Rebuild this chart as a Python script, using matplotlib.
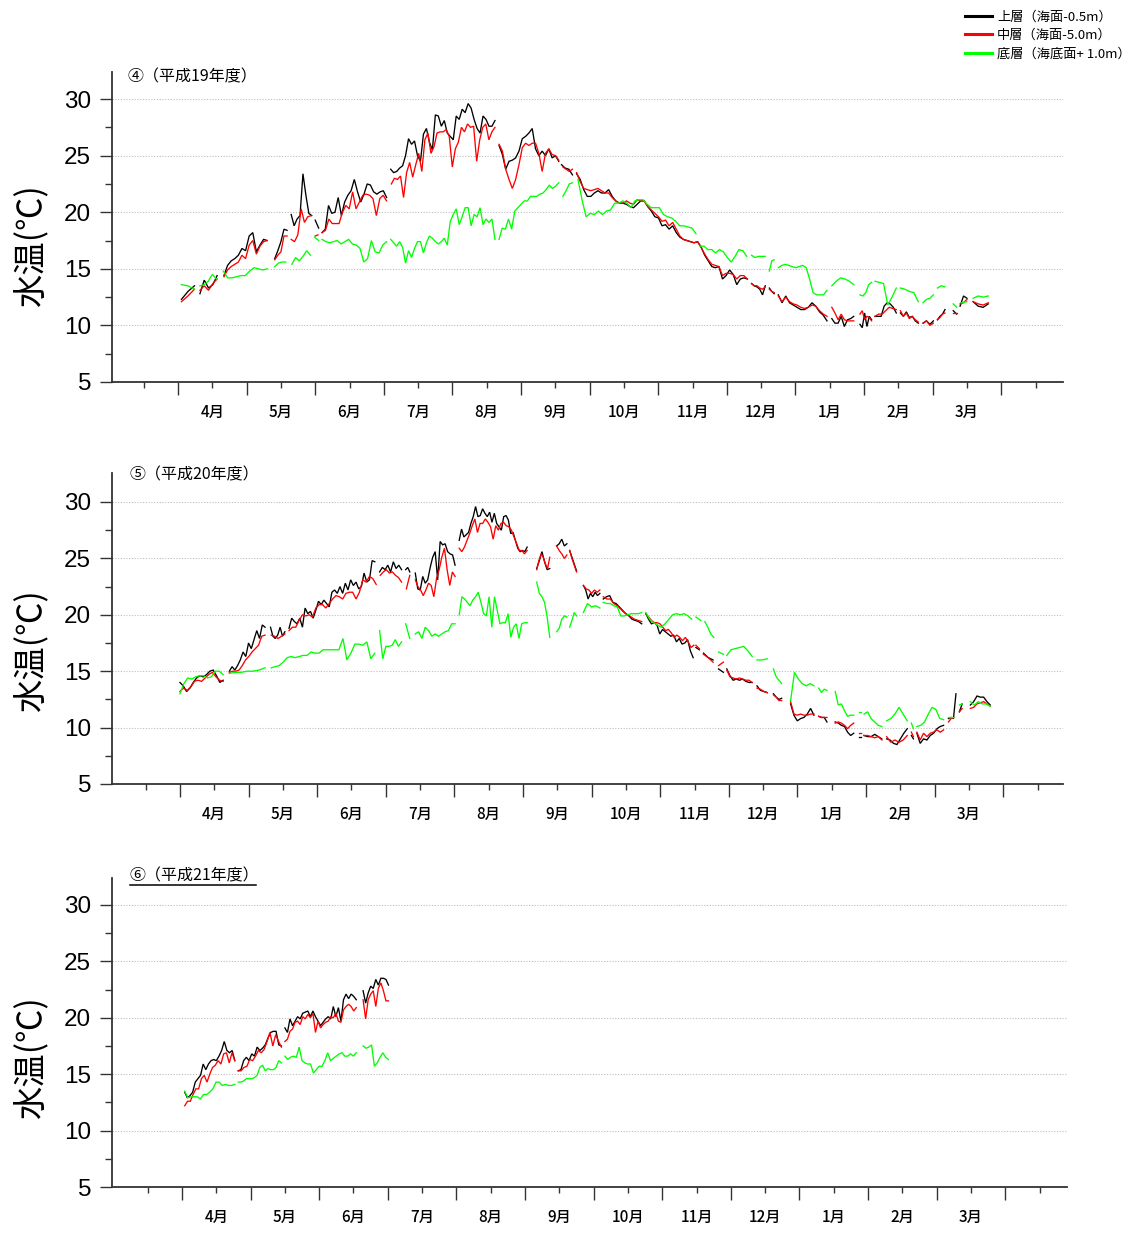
import numpy as np
import matplotlib
matplotlib.use("Agg")
import matplotlib.pyplot as plt
from matplotlib.lines import Line2D

plt.rcParams['font.family'] = ['Liberation Sans', 'Noto Sans CJK JP']
CJK = ['Noto Sans CJK JP', 'DejaVu Sans']

# x axis = months counted from 1 April, each record = (start, end, daily values)
months = ['4月', '5月', '6月', '7月', '8月', '9月', '10月', '11月', '12月', '1月', '2月', '3月']
titles = ['④（平成19年度）', '⑤（平成20年度）', '⑥（平成21年度）']
legend_labels = ['上層（海面-0.5m）', '中層（海面-5.0m）', '底層（海底面+ 1.0m）']
ylabel = '水温(℃)'

# ---- H19 ----
top_h19 = [
    (0.05, 0.24, [12.3, 13.0, 13.5]),
    (0.32, 0.57, [12.8, 14.0, 13.3, 13.6, 14.4]),
    (0.67, 1.30, [14.4, 15.3, 15.7, 15.9, 16.2, 16.8, 16.6, 17.9, 18.2, 16.5, 17.1, 17.6, 17.5]),
    (1.41, 1.59, [15.9, 16.6, 17.4, 18.5, 18.4]),
    (1.65, 1.95, [19.8, 18.8, 19.4, 19.7, 23.4, 21.5, 19.9, 19.7]),
    (2.00, 2.05, [19.3, 18.6]),
    (2.10, 3.04, [18.2, 18.5, 20.6, 19.9, 20.0, 21.3, 19.7, 20.9, 21.5, 21.9, 22.9, 21.8, 20.9, 21.6,
                  22.5, 22.4, 21.8, 21.6, 21.8, 21.9, 21.3]),
    (3.10, 4.62, [23.8, 23.5, 23.6, 23.9, 24.1, 25.0, 26.5, 26.0, 26.3, 25.0, 24.5, 26.9, 27.4, 26.2,
                  25.5, 28.6, 28.5, 27.6, 28.1, 27.0, 26.7, 26.4, 28.5, 28.2, 29.1, 28.8, 29.6, 29.2,
                  28.2, 27.4, 27.0, 28.5, 28.2, 27.6, 27.6, 28.1]),
    (4.68, 5.55, [25.9, 25.1, 23.8, 24.5, 24.6, 24.8, 25.4, 26.5, 26.7, 27.0, 27.4, 25.6, 25.0, 25.4,
                  25.0, 25.6, 24.8, 25.0, 24.5]),
    (5.59, 5.75, [24.2, 23.9, 23.8, 23.3]),
    (5.81, 8.30, [23.4, 22.9, 22.0, 21.4, 21.4, 21.7, 21.9, 21.7, 21.7, 22.0, 21.4, 21.0, 20.8, 20.8,
                  20.7, 20.5, 20.4, 20.7, 21.0, 21.0, 20.5, 20.1, 19.6, 19.5, 18.8, 18.9, 18.5, 18.8,
                  18.2, 17.8, 17.6, 17.5, 17.4, 17.3, 17.4, 16.9, 16.2, 15.7, 15.2, 15.1, 15.2, 14.1,
                  14.4, 14.9, 14.5, 13.6, 14.1, 14.2, 14.1]),
    (8.36, 8.56, [13.7, 13.5, 13.4, 13.2, 12.7, 13.5]),
    (8.62, 8.69, [13.3, 13.0, 12.8]),
    (8.75, 9.46, [12.7, 12.0, 12.6, 12.0, 11.8, 11.6, 11.4, 11.4, 11.6, 12.0, 11.7, 11.2, 10.9, 10.4]),
    (9.53, 9.85, [10.6, 10.2, 10.2, 10.8, 9.9, 10.5, 10.6, 10.8]),
    (9.94, 10.11, [10.1, 9.8, 11.1, 9.9, 10.8, 10.5]),
    (10.16, 10.47, [10.8, 10.8, 10.8, 11.7, 12.0, 11.9, 11.6, 11.1]),
    (10.53, 10.79, [11.1, 10.8, 11.2, 10.7, 10.8, 10.4, 10.2]),
    (10.86, 11.01, [10.2, 10.4, 10.1, 10.4]),
    (11.07, 11.18, [10.5, 10.8, 11.0, 11.4]),
    (11.30, 11.35, [11.3, 11.0]),
    (11.40, 11.50, [11.7, 12.6, 12.4]),
    (11.59, 11.81, [12.1, 11.7, 11.6, 11.9]),
]
mid_h19 = [
    (0.05, 0.24, [12.1, 12.6, 13.2]),
    (0.32, 0.57, [13.1, 13.5, 13.1, 13.7, 14.1]),
    (0.67, 1.30, [14.3, 14.9, 15.2, 15.4, 15.6, 16.2, 15.9, 17.1, 17.5, 16.3, 17.0, 17.4, 17.5]),
    (1.41, 1.59, [15.8, 16.2, 16.5, 17.9, 17.9]),
    (1.65, 1.94, [17.6, 17.4, 18.0, 20.3, 19.1, 19.6, 19.7]),
    (2.00, 2.04, [17.9, 18.0]),
    (2.10, 3.04, [18.2, 18.4, 19.4, 19.0, 19.0, 19.0, 20.0, 20.6, 20.3, 21.8, 20.3, 20.9, 21.5, 21.6,
                  21.5, 21.2, 19.7, 21.2, 21.5, 21.0]),
    (3.11, 4.62, [22.5, 23.0, 22.9, 23.2, 21.3, 23.5, 24.4, 23.1, 24.2, 25.2, 23.6, 26.4, 27.0, 25.2,
                  25.8, 27.0, 27.1, 27.1, 27.3, 26.7, 24.0, 25.6, 26.2, 27.5, 27.1, 27.8, 27.5, 27.6,
                  24.5, 26.4, 27.5, 27.8, 26.4, 27.1, 27.5]),
    (4.68, 5.55, [26.0, 25.4, 23.8, 22.9, 22.1, 22.9, 24.2, 25.7, 26.1, 25.9, 26.1, 26.1, 25.2, 23.6,
                  25.2, 25.6, 25.1, 25.0, 24.6]),
    (5.61, 5.75, [24.0, 23.8, 23.6, 23.8]),
    (5.81, 8.30, [23.5, 22.7, 22.1, 22.0, 21.9, 22.0, 22.1, 21.9, 21.7, 21.7, 21.3, 21.0, 20.8, 20.8,
                  21.0, 20.8, 20.7, 21.1, 21.0, 21.0, 20.5, 20.2, 19.9, 19.6, 19.2, 19.3, 18.8, 19.1,
                  18.5, 17.9, 17.6, 17.5, 17.4, 17.3, 17.4, 16.9, 16.3, 15.8, 15.4, 15.3, 15.2, 14.4,
                  14.6, 14.6, 14.5, 14.1, 14.4, 14.4, 14.1]),
    (8.36, 8.56, [13.7, 13.5, 13.5, 13.3, 13.2, 13.4]),
    (8.62, 8.69, [13.2, 13.0, 12.9]),
    (8.75, 9.46, [12.6, 12.1, 12.5, 12.1, 11.9, 11.8, 11.6, 11.5, 11.6, 11.8, 11.7, 11.3, 11.0, 10.8]),
    (9.53, 9.85, [11.6, 11.1, 10.5, 11.0, 10.5, 10.4, 10.4, 10.4]),
    (9.94, 10.11, [11.0, 11.3, 10.5, 10.8, 10.7, 10.4]),
    (10.16, 10.47, [10.8, 11.0, 11.0, 11.3, 11.6, 11.5, 11.4]),
    (10.53, 10.79, [11.3, 10.8, 11.1, 10.6, 10.8, 10.5, 10.3]),
    (10.86, 11.01, [10.2, 10.4, 10.0, 10.2]),
    (11.07, 11.18, [10.5, 10.7, 11.0, 11.1]),
    (11.30, 11.35, [11.1, 11.1]),
    (11.40, 11.50, [11.9, 12.0, 12.3]),
    (11.59, 11.81, [12.1, 11.9, 11.8, 12.0]),
]
bot_h19 = [
    (0.05, 0.24, [13.6, 13.5, 13.2]),
    (0.32, 0.56, [13.5, 13.6, 13.9, 14.5, 14.1]),
    (0.66, 1.30, [14.8, 14.2, 14.2, 14.3, 14.4, 14.4, 14.8, 15.1, 15.0, 14.9, 15.0]),
    (1.41, 1.57, [15.2, 15.5, 15.6, 15.6]),
    (1.66, 1.93, [15.4, 16.0, 15.7, 16.1, 16.6, 16.2]),
    (1.99, 2.05, [17.8, 17.5]),
    (2.10, 3.04, [17.6, 17.4, 17.3, 17.4, 17.5, 17.2, 17.4, 17.6, 17.2, 17.1, 16.8, 15.6, 15.9, 17.5,
                  16.5, 16.4, 17.1, 17.4]),
    (3.10, 4.62, [17.6, 17.3, 17.0, 17.4, 16.9, 15.5, 16.6, 16.0, 16.8, 17.4, 17.4, 16.4, 17.3, 17.9,
                  17.7, 17.4, 17.2, 17.4, 17.7, 17.1, 19.2, 19.8, 20.3, 18.9, 19.6, 20.4, 20.4, 18.8,
                  19.8, 19.6, 20.4, 18.9, 19.4, 19.1, 19.4, 17.6]),
    (4.68, 5.55, [17.6, 18.6, 18.5, 19.4, 18.5, 20.1, 20.4, 20.7, 21.0, 21.0, 21.4, 21.4, 21.4, 21.6,
                  21.7, 22.0, 22.4, 22.1, 22.3, 22.6]),
    (5.61, 5.75, [21.4, 21.9, 22.5, 22.6]),
    (5.83, 7.55, [22.9, 21.1, 19.6, 19.9, 19.8, 20.1, 19.8, 20.1, 20.2, 20.8, 20.8, 21.0, 20.8, 20.4,
                  21.0, 21.1, 21.1, 20.7, 20.4, 20.4, 20.4, 19.8, 19.6, 19.5, 19.2, 18.8, 18.8, 18.7,
                  18.6, 18.1]),
    (7.61, 8.29, [17.0, 17.0, 16.7, 16.7, 16.4, 16.7, 16.5, 16.0, 15.6, 16.1, 16.7, 16.6, 16.1]),
    (8.36, 8.56, [16.2, 16.0, 16.1, 16.1, 16.1]),
    (8.62, 8.69, [14.8, 15.7, 15.8]),
    (8.75, 9.46, [15.1, 15.3, 15.4, 15.3, 15.2, 15.1, 15.2, 15.3, 15.1, 14.1, 12.9, 12.7, 12.7, 12.7, 13.1]),
    (9.53, 9.85, [13.5, 13.9, 14.2, 14.1, 13.9, 13.6]),
    (9.94, 10.11, [12.7, 12.6, 12.9, 13.6, 13.8]),
    (10.16, 10.47, [13.9, 13.8, 13.7, 11.8, 12.5, 13.3]),
    (10.53, 10.79, [13.3, 13.2, 13.0, 12.9, 12.1]),
    (10.86, 11.01, [12.0, 12.3, 12.4, 12.7]),
    (11.07, 11.18, [13.3, 13.5, 13.4]),
    (11.30, 11.35, [11.9, 11.6]),
    (11.42, 11.50, [12.0, 12.1]),
    (11.59, 11.81, [12.4, 12.6, 12.5, 12.6]),
]

# ---- H20 ----
top_h20 = [
    (0.00, 0.63, [14.0, 13.7, 13.2, 13.5, 14.0, 14.4, 14.6, 14.5, 14.7, 15.0, 15.1, 14.6, 14.0, 14.2]),
    (0.72, 1.24, [15.0, 15.4, 15.1, 15.5, 16.0, 16.7, 16.3, 17.5, 17.0, 17.8, 18.6, 17.9, 19.1, 18.9]),
    (1.32, 1.53, [18.9, 18.1, 17.9, 18.2, 18.9, 18.1, 18.5]),
    (1.59, 2.84, [18.8, 19.7, 19.4, 19.2, 19.7, 18.9, 20.6, 20.1, 20.3, 19.7, 20.4, 21.2, 20.9, 21.3,
                  21.0, 20.7, 22.0, 22.2, 21.9, 22.5, 21.9, 22.8, 22.2, 23.1, 22.6, 22.9, 22.3, 22.5,
                  23.7, 22.9, 23.1, 24.8, 24.7]),
    (2.91, 3.23, [23.8, 24.2, 24.0, 24.4, 23.8, 24.7, 24.1, 24.4, 24.0]),
    (3.29, 3.35, [24.0, 24.2, 23.8]),
    (3.43, 4.01, [23.7, 22.3, 22.2, 23.4, 22.8, 23.1, 24.2, 25.1, 25.6, 23.1, 26.5, 26.2, 26.3, 25.6,
                  25.4, 25.3, 24.4]),
    (4.07, 5.06, [26.6, 27.6, 26.9, 27.1, 27.3, 28.1, 28.7, 29.6, 28.7, 28.8, 29.4, 29.0, 28.7, 29.1,
                  28.2, 29.0, 28.1, 27.8, 27.5, 28.7, 28.8, 28.4, 27.2, 27.3, 26.6, 25.9, 25.6, 25.7,
                  25.6, 26.0]),
    (5.20, 5.39, [24.1, 24.8, 25.6, 24.7, 24.0, 24.1]),
    (5.49, 5.64, [26.1, 26.3, 26.7, 26.1, 26.3]),
    (5.68, 5.78, [25.7, 25.1, 24.5, 23.9]),
    (5.88, 6.12, [22.6, 22.2, 21.4, 21.9, 21.6, 22.0, 21.7, 21.9]),
    (6.17, 6.73, [21.4, 21.6, 21.7, 21.1, 21.0, 20.7, 20.4, 20.1, 19.9, 19.6, 19.5, 19.4, 19.2]),
    (6.79, 7.48, [20.1, 19.6, 19.2, 19.3, 19.1, 18.3, 18.7, 18.5, 18.3, 18.1, 18.2, 17.6, 17.9, 17.4,
                  17.5, 17.8, 16.8, 16.2]),
    (7.52, 7.57, [17.1, 16.9]),
    (7.63, 7.77, [16.6, 16.2, 16.0]),
    (7.85, 7.92, [15.2, 14.9]),
    (7.97, 8.34, [15.2, 14.6, 14.2, 14.3, 14.2, 14.3, 14.1, 14.0, 14.0]),
    (8.41, 8.56, [13.7, 13.3, 13.2, 13.1]),
    (8.65, 8.77, [13.0, 12.7, 12.5, 12.6]),
    (8.90, 9.24, [12.1, 11.1, 10.6, 10.8, 10.9, 11.2, 11.7, 11.1]),
    (9.31, 9.43, [11.0, 10.9, 10.9, 10.5]),
    (9.55, 9.82, [10.5, 10.4, 10.2, 10.1, 9.6, 9.3, 9.5]),
    (9.89, 9.92, [9.2, 9.2]),
    (9.97, 10.23, [9.3, 9.2, 9.2, 9.4, 9.2, 9.0]),
    (10.30, 10.60, [9.0, 8.9, 8.6, 8.5, 9.0, 9.5, 9.9]),
    (10.66, 10.69, [9.3, 9.0]),
    (10.74, 11.13, [9.5, 8.6, 9.0, 8.9, 9.3, 9.5, 9.9, 10.1, 10.2]),
    (11.20, 11.31, [10.8, 10.9, 10.8, 13.0]),
    (11.36, 11.40, [11.4, 12.1]),
    (11.52, 11.81, [12.0, 12.3, 12.8, 12.7, 12.7, 12.3, 12.0]),
]
mid_h20 = [
    (0.00, 0.63, [13.2, 13.5, 13.3, 13.6, 14.1, 14.2, 14.1, 14.4, 14.7, 14.9, 14.5, 14.2, 14.1]),
    (0.72, 1.24, [14.9, 15.0, 15.0, 15.1, 15.5, 16.0, 16.3, 16.7, 17.0, 17.3, 18.1, 18.2]),
    (1.33, 1.53, [18.2, 18.1, 17.9, 18.1, 18.3]),
    (1.59, 2.86, [18.6, 18.9, 18.9, 19.5, 20.0, 19.9, 20.0, 19.8, 20.6, 20.9, 20.9, 20.6, 21.0, 21.4,
                  21.7, 21.6, 21.4, 21.9, 22.0, 22.0, 21.4, 22.0, 23.1, 22.9, 23.4, 23.2, 22.7]),
    (2.92, 3.23, [23.5, 23.8, 24.0, 23.7, 23.8, 23.5, 23.3, 22.9]),
    (3.30, 3.35, [22.3, 23.5]),
    (3.43, 4.01, [23.1, 22.5, 22.2, 21.7, 22.2, 22.8, 22.6, 21.6, 23.2, 24.0, 25.1, 25.9, 24.0, 22.6,
                  23.8, 23.4]),
    (4.07, 5.06, [25.9, 25.6, 26.0, 26.6, 27.2, 27.9, 28.5, 27.3, 28.1, 28.1, 28.5, 28.2, 27.8, 26.7,
                  27.9, 27.5, 28.1, 28.2, 27.9, 27.8, 27.5, 26.9, 26.3, 25.7, 25.7, 25.4, 25.7]),
    (5.20, 5.39, [24.0, 24.8, 25.4, 25.1, 24.5, 24.1, 25.1]),
    (5.49, 5.64, [26.1, 25.7, 25.4, 25.0, 25.3]),
    (5.68, 5.78, [25.7, 25.0, 24.4, 23.8]),
    (5.88, 6.12, [22.6, 22.3, 22.2, 21.9, 22.2, 22.0, 22.2]),
    (6.17, 6.73, [21.6, 21.4, 21.4, 21.0, 20.8, 20.5, 20.2, 20.0, 19.8, 19.6, 19.5, 19.4]),
    (6.79, 7.49, [20.1, 19.8, 19.5, 19.3, 19.3, 19.2, 18.9, 18.6, 18.7, 18.4, 18.0, 18.2, 18.0, 17.7,
                  18.0, 17.6, 17.1, 17.3]),
    (7.52, 7.57, [17.3, 17.0]),
    (7.63, 7.77, [16.5, 16.2, 15.8]),
    (7.85, 7.92, [15.5, 15.8]),
    (7.97, 8.34, [15.1, 14.5, 14.4, 14.3, 14.4, 14.3, 14.2, 14.2, 14.0]),
    (8.41, 8.56, [13.5, 13.4, 13.2, 13.1]),
    (8.65, 8.77, [12.9, 12.7, 12.4, 12.4]),
    (8.90, 9.24, [12.3, 11.2, 11.1, 11.2, 11.1, 11.1, 11.2, 11.2]),
    (9.31, 9.43, [11.0, 10.9, 10.9, 10.9]),
    (9.55, 9.82, [10.4, 10.5, 10.4, 10.2, 9.9, 10.2, 10.4]),
    (9.89, 9.92, [9.5, 9.5]),
    (9.97, 10.23, [9.3, 9.3, 9.2, 9.1, 9.2, 8.9]),
    (10.30, 10.60, [9.2, 8.7, 8.9, 8.7, 8.9, 9.3]),
    (10.66, 10.69, [9.6, 9.2]),
    (10.74, 11.13, [9.6, 8.9, 9.5, 9.2, 9.5, 9.6, 9.8, 9.6, 9.8]),
    (11.20, 11.28, [10.5, 10.8, 10.9]),
    (11.36, 11.40, [11.4, 11.7]),
    (11.52, 11.81, [11.7, 11.8, 12.1, 12.2, 12.3, 12.1, 11.9]),
]
bot_h20 = [
    (0.00, 0.63, [13.0, 13.9, 14.4, 14.3, 14.5, 14.6, 14.6, 14.4, 14.5, 15.0, 15.0, 14.7]),
    (0.72, 1.24, [14.8, 14.9, 14.9, 15.0, 15.0, 15.1, 15.3]),
    (1.33, 2.84, [15.3, 15.4, 15.5, 15.8, 16.2, 16.3, 16.2, 16.3, 16.4, 16.4, 16.7, 16.6, 16.6, 16.9,
                  16.9, 16.9, 16.9, 16.9, 17.9, 16.0, 16.6, 17.4, 17.4, 17.3, 17.6, 16.1, 16.6]),
    (2.91, 3.23, [18.6, 16.1, 17.2, 17.2, 17.3, 17.8, 17.2, 17.6]),
    (3.29, 3.35, [19.2, 17.9]),
    (3.43, 4.01, [18.3, 18.5, 17.9, 18.9, 18.6, 18.1, 18.3, 18.1, 18.3, 18.5, 18.6, 19.2, 19.2]),
    (4.07, 5.06, [20.0, 21.6, 21.4, 21.1, 20.8, 21.3, 21.6, 22.0, 21.1, 20.1, 19.9, 21.6, 18.9, 21.6,
                  20.4, 19.2, 19.3, 19.3, 20.1, 18.0, 18.9, 19.2, 17.9, 19.2, 19.3, 19.3]),
    (5.20, 5.39, [22.9, 21.9, 21.6, 21.1, 19.8, 18.0]),
    (5.49, 5.64, [18.5, 18.8, 19.6, 19.9, 19.8]),
    (5.68, 5.78, [18.9, 19.5, 20.2, 19.9]),
    (5.88, 6.12, [20.2, 21.0, 20.7, 20.8, 20.6]),
    (6.17, 6.73, [21.1, 21.0, 21.0, 20.8, 20.7, 19.9, 19.9, 20.0, 20.1, 20.1, 20.1, 20.2]),
    (6.79, 7.46, [20.2, 19.6, 19.3, 19.1, 18.9, 19.2, 19.6, 20.0, 20.1, 20.0, 20.1, 19.9, 19.6]),
    (7.52, 7.59, [19.8, 19.5]),
    (7.65, 7.78, [19.4, 18.9, 18.3, 18.0]),
    (7.85, 7.92, [16.7, 16.5]),
    (7.97, 8.34, [16.4, 16.9, 17.0, 17.1, 17.2, 16.8, 16.3]),
    (8.41, 8.56, [16.0, 16.0, 16.1]),
    (8.65, 8.77, [15.2, 14.5, 14.2, 13.9]),
    (8.90, 9.24, [12.4, 14.9, 14.3, 13.9, 13.7, 13.9, 13.7]),
    (9.31, 9.43, [13.5, 13.1, 13.4, 13.3]),
    (9.55, 9.82, [13.2, 12.0, 12.1, 11.5, 11.0, 11.1, 11.1]),
    (9.89, 9.92, [11.4, 11.4]),
    (9.97, 10.23, [11.2, 11.4, 10.8, 10.5, 10.2, 10.1]),
    (10.30, 10.60, [10.6, 10.8, 11.2, 11.8, 11.2, 10.6]),
    (10.66, 10.69, [10.4, 9.9]),
    (10.74, 11.13, [10.1, 10.2, 10.5, 11.2, 11.8, 11.6, 10.8, 10.7]),
    (11.20, 11.28, [10.9, 10.9]),
    (11.36, 11.40, [12.0, 12.1]),
    (11.52, 11.81, [12.3, 12.0, 12.3, 12.1, 12.1, 11.9]),
]

# ---- H21 ----
top_h21 = [
    (0.04, 0.77, [13.4, 12.9, 13.1, 13.4, 14.3, 14.6, 14.9, 15.9, 15.4, 15.9, 16.2, 16.3, 16.2, 16.6,
                  17.1, 17.9, 17.1, 16.9, 17.1, 16.2]),
    (0.82, 1.45, [15.3, 15.4, 16.2, 16.5, 16.2, 16.8, 16.6, 17.4, 17.1, 17.3, 17.6, 18.2, 18.7, 18.8,
                  18.8, 17.6, 17.5]),
    (1.50, 2.54, [19.1, 18.7, 19.9, 19.3, 19.7, 20.1, 19.9, 20.4, 20.5, 20.6, 20.1, 20.6, 20.1, 19.7,
                  19.3, 19.6, 19.9, 20.1, 19.9, 21.0, 20.1, 20.9, 19.7, 21.6, 22.1, 21.7, 22.1, 21.9, 21.6]),
    (2.64, 3.01, [22.4, 21.3, 22.2, 22.8, 22.6, 23.4, 22.9, 23.5, 23.5, 23.4, 22.9]),
]
mid_h21 = [
    (0.04, 0.77, [12.2, 12.6, 12.6, 13.2, 13.7, 13.7, 14.6, 14.9, 14.3, 15.0, 15.6, 15.8, 16.2, 15.9,
                  16.8, 16.9, 16.0, 16.9, 16.2]),
    (0.82, 1.45, [15.3, 15.3, 15.6, 15.7, 16.3, 16.2, 16.6, 17.1, 16.9, 17.2, 17.9, 18.7, 17.5, 18.5,
                  17.9, 17.4]),
    (1.50, 2.54, [17.9, 18.1, 18.8, 19.0, 19.6, 19.7, 19.4, 20.1, 19.9, 20.3, 20.0, 20.4, 18.7, 19.7,
                  19.1, 19.4, 19.6, 19.7, 20.1, 20.0, 20.4, 19.7, 19.6, 20.7, 21.0, 21.2, 21.0, 20.6, 20.9]),
    (2.64, 3.01, [21.6, 19.9, 21.6, 22.1, 22.4, 21.0, 22.6, 23.1, 22.4, 21.5, 21.5]),
]
bot_h21 = [
    (0.04, 0.77, [13.5, 12.9, 13.0, 13.0, 13.0, 12.8, 13.2, 13.2, 13.4, 13.7, 14.3, 14.3, 14.0, 14.1,
                  14.0, 14.0, 14.1]),
    (0.82, 1.45, [14.3, 14.3, 14.4, 14.6, 14.6, 14.6, 14.7, 14.9, 15.6, 15.8, 15.3, 15.5, 15.4, 15.4,
                  15.6, 16.2, 16.0]),
    (1.50, 2.54, [16.6, 16.3, 16.5, 16.6, 16.5, 17.4, 16.2, 16.0, 15.9, 15.9, 15.1, 15.4, 15.7, 15.7,
                  16.2, 16.9, 16.2, 16.4, 16.6, 16.8, 16.9, 16.6, 16.6, 16.8, 16.6, 16.9]),
    (2.64, 3.01, [17.5, 17.3, 17.4, 17.6, 15.7, 16.0, 16.5, 16.9, 16.5, 16.3]),
]

panels = [
    (top_h19, mid_h19, bot_h19),
    (top_h20, mid_h20, bot_h20),
    (top_h21, mid_h21, bot_h21),
]
colors = ['#000000', '#ff0000', '#00ff00']

W, H = 1130, 1234
fig = plt.figure(figsize=(W / 100, H / 100), dpi=100)

# pixel boxes (left, top, right, bottom) and x/y limits of each panel
boxes = [(112, 72, 1063, 382), (112, 473, 1063, 784), (112, 878, 1067, 1187)]
xlims = [(-0.962, 12.90), (-0.99, 12.87), (-1.02, 12.90)]
ylims = [(5, 32.39), (5, 32.57), (5, 32.39)]
title_xy = [(128, 77), (130, 475), (130, 876)]
ylab_y = [0.44, 0.43, 0.42]


def draw(ax, segs, color):
    for start, end, vals in segs:
        x = np.linspace(start, end, len(vals))
        ax.plot(x, vals, color=color, lw=0.95, solid_joinstyle='miter')


axes = []
for i, (series, box) in enumerate(zip(panels, boxes)):
    l, t, r, b = box
    ax = fig.add_axes([l / W, 1 - b / H, (r - l) / W, (b - t) / H])
    axes.append(ax)
    for segs, c in zip(series, colors):
        draw(ax, segs, c)
    ax.set_xlim(*xlims[i])
    ax.set_ylim(*ylims[i])

    for s in ['top', 'right']:
        ax.spines[s].set_visible(False)
    for s in ['left', 'bottom']:
        ax.spines[s].set_color('#333333')
        ax.spines[s].set_linewidth(1.3)

    ax.set_yticks(np.arange(5, 31, 5))
    ax.set_yticks(np.arange(7.5, 30, 5), minor=True)
    ax.tick_params(axis='y', which='major', length=9, width=1, color='#333333',
                   labelsize=17.5, pad=6)
    ax.tick_params(axis='y', which='minor', length=5, width=1, color='#333333')
    ax.yaxis.grid(True, which='major', ls=(0, (1, 1.5)), color='#bdbdbd', lw=0.8)
    ax.set_axisbelow(True)

    ax.set_xticks(np.arange(0, 13, 1))
    ax.set_xticklabels([])
    ax.set_xticks(np.arange(-0.5, 13, 1), minor=True)
    ax.set_xticklabels([''] + months + [''], minor=True, fontfamily=CJK, fontsize=11,
                       fontweight='medium')
    ax.tick_params(axis='x', which='major', length=9, width=1, color='#333333')
    ax.tick_params(axis='x', which='minor', length=4.5, width=1, color='#333333', pad=11)

    ax.set_ylabel(ylabel, fontfamily=CJK, fontsize=24)
    ax.yaxis.set_label_coords(-0.066, ylab_y[i])

    tx, ty = title_xy[i]
    fig.text(tx / W, 1 - ty / H, titles[i], fontfamily=CJK, fontsize=11.5, va='center', ha='left')

# underline under the third title
fig.add_artist(Line2D([130 / W, 256 / W], [1 - 885 / H, 1 - 885 / H],
                      transform=fig.transFigure, color='black', lw=1.1))

handles = [Line2D([], [], color=c, lw=2.2) for c in colors]
fig.legend(handles, legend_labels, loc='upper left', bbox_to_anchor=(956 / W, 1 - 1 / H),
           frameon=False, prop={'family': CJK, 'size': 9.5}, handlelength=2.0,
           handletextpad=0.4, labelspacing=0.42, borderpad=0.2)

fig.savefig('out.png', dpi=100)
